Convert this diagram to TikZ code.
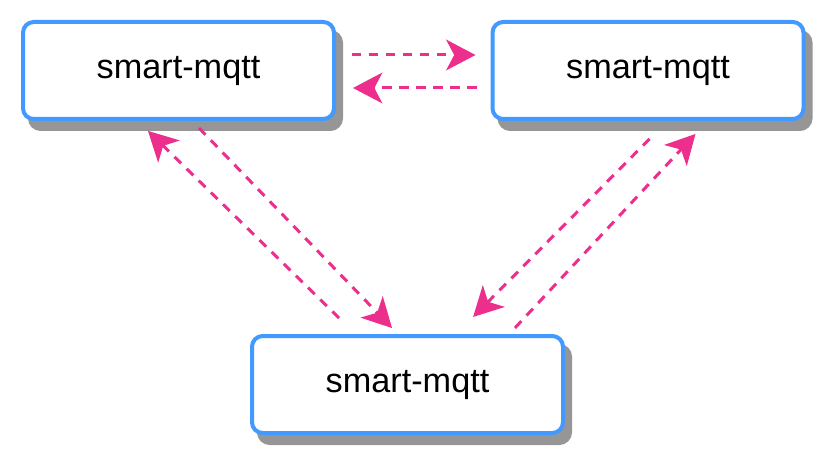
\documentclass[tikz,border=0pt]{standalone}
\usepackage{fontspec}
\setmainfont{Liberation Sans}
\usetikzlibrary{arrows.meta,shadows,calc}
\definecolor{boxblue}{RGB}{66,153,255}
\definecolor{linkpink}{RGB}{236,46,140}
\definecolor{shadowgray}{RGB}{150,150,150}
\tikzset{
  broker/.style={draw=boxblue, fill=white, line width=3pt, rounded corners=8pt,
    minimum width=233.25pt, minimum height=72.75pt, outer sep=0pt,
    font=\fontsize{25.7}{30}\selectfont,
    drop shadow={shadow xshift=5.25pt, shadow yshift=-7.5pt, fill=shadowgray, draw=shadowgray, opacity=1}},
  link/.style={draw=linkpink, line width=2.25pt, dash pattern=on 7pt off 5.75pt,
    -{Stealth[length=22pt,width=23pt,inset=6pt]}}
}
\begin{document}
\begin{tikzpicture}[x=0.75pt,y=-0.75pt]
  \useasboundingbox (0,0) rectangle (833,460);
  \node[broker] (left) at (178.5,70.5) {smart-mqtt};
  \node[broker] (right) at (648,70.5) {smart-mqtt};
  \node[broker] (bottom) at (407.5,384.5) {smart-mqtt};
  % top pair
  \draw[link, shorten <=13.5pt, shorten >=12.75pt] ($(left.east)+(0,-15.5)$) -- ($(right.west)+(0,-15.5)$);
  \draw[link, shorten <=12pt, shorten >=14.25pt] ($(right.west)+(0,17.5)$) -- ($(left.east)+(0,17.5)$);
  % left pair
  \draw[link, shorten <=9.4pt, shorten >=8.25pt] ($(left.south)+(11.8,0)$) -- ($(bottom.north)+(-7.8,0)$);
  \draw[link, shorten <=19.3pt, shorten >=12.75pt] ($(bottom.north)+(-50.1,0)$) -- ($(left.south)+(-42.7,0)$);
  % right pair
  \draw[link, shorten <=21pt, shorten >=20.1pt] ($(right.south)+(21.3,0)$) -- ($(bottom.north)+(46.7,0)$);
  \draw[link, shorten <=8.25pt, shorten >=15.3pt] ($(bottom.north)+(100,0)$) -- ($(right.south)+(61.4,0)$);
\end{tikzpicture}
\end{document}
